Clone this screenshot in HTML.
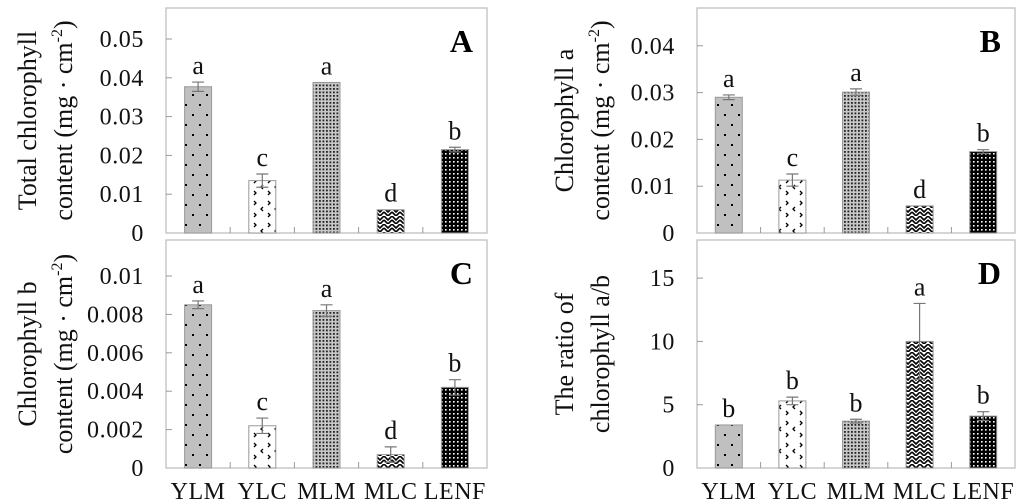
<!DOCTYPE html>
<html><head><meta charset="utf-8"><style>
html,body{margin:0;padding:0;background:#fff;}
svg{display:block;font-family:"Liberation Serif",serif;}
</style></head><body>
<svg id="chart" width="1024" height="504" viewBox="0 0 1024 504">
<defs>
<pattern id="pYLM" width="14" height="20" patternUnits="userSpaceOnUse"><rect width="14" height="20" fill="#c0c0c0"/><rect x="3" y="4" width="2" height="2" fill="#000"/><rect x="10" y="14" width="2" height="2" fill="#000"/></pattern>
<pattern id="pYLC" width="14" height="22" patternUnits="userSpaceOnUse"><rect width="14" height="22" fill="#fff"/><path d="M2 3l2 2-2 2M11 9l-2 2 2 2M2 15l2 2-2 2" stroke="#000" stroke-width="1.3" fill="none"/></pattern>
<pattern id="pMLM" width="3.5" height="3.5" patternUnits="userSpaceOnUse"><rect width="3.5" height="3.5" fill="#c8c8c8"/><rect x="0.5" y="0.5" width="1.8" height="1.8" fill="#222"/></pattern>
<pattern id="pMLC" width="8" height="8" patternUnits="userSpaceOnUse"><rect width="8" height="8" fill="#fff"/><path d="M0 0l4 4 4-4M0 4l4 4 4-4" stroke="#000" stroke-width="1.6" fill="none"/></pattern>
<pattern id="pLENF" width="4" height="4" patternUnits="userSpaceOnUse"><rect width="4" height="4" fill="#000"/><rect x="1" y="1" width="1.6" height="1.6" fill="#fff"/></pattern>
</defs>
</svg>
<script>
const categories=["YLM","YLC","MLM","MLC","LENF"];
const valuesA=[0.0377,0.0135,0.0388,0.0060,0.0215];
const errorsA=[0.0012,0.0017,0,0,0.0006];
const lettersA=["a","c","a","d","b"];
const valuesB=[0.0290,0.0113,0.0301,0.0058,0.0174];
const errorsB=[0.0005,0.0013,0.0007,0,0.0004];
const lettersB=["a","c","a","d","b"];
const valuesC=[0.0085,0.0022,0.0082,0.0007,0.0042];
const errorsC=[0.0002,0.0004,0.0003,0.0004,0.0004];
const lettersC=["a","c","a","d","b"];
const valuesD=[3.4,5.3,3.7,10.0,4.1];
const errorsD=[0,0.3,0.15,3.0,0.35];
const lettersD=["b","b","b","a","b"];
const ticksA=[0,0.01,0.02,0.03,0.04,0.05];
const tickLabelsA=["0","0.01","0.02","0.03","0.04","0.05"];
const ticksB=[0,0.01,0.02,0.03,0.04];
const tickLabelsB=["0","0.01","0.02","0.03","0.04"];
const ticksC=[0,0.002,0.004,0.006,0.008,0.01];
const tickLabelsC=["0","0.002","0.004","0.006","0.008","0.01"];
const ticksD=[0,5,10,15];
const tickLabelsD=["0","5","10","15"];
const pats=["pYLM","pYLC","pMLM","pMLC","pLENF"];
const NS="http://www.w3.org/2000/svg";
const svg=document.getElementById('chart');
function mk(tag,attrs,parent,text){const e=document.createElementNS(NS,tag);for(const k in attrs)e.setAttribute(k,attrs[k]);if(text!==undefined)e.textContent=text;(parent||svg).appendChild(e);return e;}

function panel(o){
  const g=mk('g',{});
  
  
  const yScale=v=>o.y0-(v/o.unit)*o.unitPx;
  const xScale=i=>o.left+(i+0.5)*(o.right-o.left)/categories.length;
  const frame=mk('rect',{x:o.left,y:o.top,width:o.right-o.left,height:o.y0-o.top,fill:'none',stroke:'#bfbfbf','stroke-width':1.3},g);
  
  
  o.ticks.forEach((t,i)=>{
    const y=yScale(t);
    if(t>0){const tk=mk('line',{x1:o.left,x2:o.left+6,y1:y,y2:y,stroke:'#999','stroke-width':1},g);
      }
    const tl=mk('text',{x:o.left-22,y:y+8,'text-anchor':'end','font-size':24,'letter-spacing':0.6,fill:'#111'},g,o.tickLabels[i]);
    
    
  });
  for(let i=1;i<categories.length;i++){
    const x=o.left+i*(o.right-o.left)/categories.length;
    const xt=mk('line',{x1:x,x2:x,y1:o.y0,y2:o.y0-6,stroke:'#999','stroke-width':1},g);
    
  }
  const bw=27;
  o.values.forEach((v,i)=>{
    const cx=xScale(i), yt=yScale(v);
    const b=mk('rect',{x:cx-bw/2,y:yt,width:bw,height:o.y0-yt,fill:'url(#'+pats[i]+')',stroke:'#999','stroke-width':1},g);
    
    
    const e=o.errors[i];
    let top=yt;
    if(e>0){
      top=yScale(v+e); const bot=yScale(v-e);
      const el=mk('path',{d:`M${cx} ${bot}V${top}M${cx-6} ${top}h12M${cx-6} ${bot}h12`,stroke:'#777','stroke-width':1.2,fill:'none'},g);
      
      
    }
    const lt=mk('text',{x:cx,y:top-8,'text-anchor':'middle','font-size':26,fill:'#111'},g,o.letters[i]);
    
    
    if(o.xlabels){
      const xl=mk('text',{x:cx,y:o.y0+31,'text-anchor':'middle','font-size':24,'letter-spacing':0.5,fill:'#111'},g,categories[i]);
      
      
    }
  });
  const pl=mk('text',{x:o.right-14,y:o.top+44,'text-anchor':'end','font-size':32,'font-weight':'bold',fill:'#000'},g,o.id);
  
  
  const cy=(o.top+o.y0)/2;
  o.title.forEach((line,k)=>{
    const tx=o.titleX+k*36;
    const t=mk('text',{x:tx,y:cy,transform:`rotate(-90 ${tx} ${cy})`,'text-anchor':'middle','font-size':26,fill:'#111'},g);
    
    
    if(line.sup){
      t.appendChild(document.createTextNode(line.text));
      mk('tspan',{'font-size':16,dy:-10},t,'-2');
      mk('tspan',{dy:10},t,')');
    } else t.textContent=line.text;
  });
}
panel({id:'A',left:166,right:487,top:8,y0:233,unit:0.01,unitPx:38.8,ticks:ticksA,tickLabels:tickLabelsA,values:valuesA,errors:errorsA,letters:lettersA,titleX:36,title:[{text:'Total chlorophyll'},{text:'content (mg · cm',sup:true}]});
panel({id:'B',left:697,right:1015,top:8,y0:233,unit:0.01,unitPx:46.8,ticks:ticksB,tickLabels:tickLabelsB,values:valuesB,errors:errorsB,letters:lettersB,titleX:573,title:[{text:'Chlorophyll a'},{text:'content (mg · cm',sup:true}]});
panel({id:'C',left:166,right:487,top:240,y0:468,unit:0.002,unitPx:38.4,ticks:ticksC,tickLabels:tickLabelsC,values:valuesC,errors:errorsC,letters:lettersC,titleX:36,xlabels:true,title:[{text:'Chlorophyll b'},{text:'content (mg · cm',sup:true}]});
panel({id:'D',left:697,right:1015,top:240,y0:468,unit:5,unitPx:63.3,ticks:ticksD,tickLabels:tickLabelsD,values:valuesD,errors:errorsD,letters:lettersD,titleX:573,xlabels:true,title:[{text:'The ratio of'},{text:'chlorophyll a/b'}]});
</script>
</body></html>
